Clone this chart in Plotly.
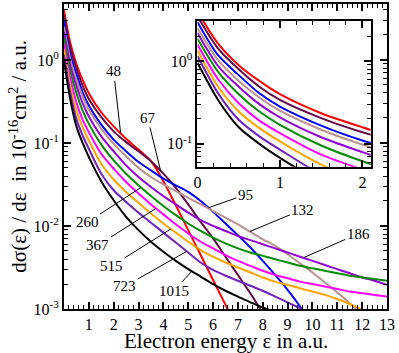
import numpy as np
import plotly.graph_objects as go

# Electron energy grid (a.u.)
energy = [0, 0.25, 0.5, 0.75, 1, 1.5, 2, 2.5, 3, 3.5, 4, 4.5, 5, 5.5, 6, 6.5,
          7, 7.5, 8, 8.5, 9, 9.5, 10, 10.5, 11, 11.5, 12, 12.5, 13]

# log10 of dsigma/deps (1e-16 cm^2 / a.u.)
log_sigma_48 = [0.60, 0.21, -0.05, -0.24, -0.40, -0.63, -0.80, -0.95, -1.08, -1.22,
                -1.46, -1.75, -2.05, -2.35, -2.65, -2.95, -3.25]
log_sigma_67 = [0.54, 0.15, -0.10, -0.31, -0.47, -0.69, -0.86, -0.99, -1.10, -1.22,
                -1.37, -1.54, -1.74, -1.95, -2.15, -2.37, -2.59, -2.81, -3.05]
log_sigma_95 = [0.47, 0.07, -0.17, -0.39, -0.55, -0.78, -0.96, -1.10, -1.23, -1.33,
                -1.43, -1.51, -1.59, -1.70, -1.83, -1.97, -2.11, -2.26, -2.42, -2.59,
                -2.77, -2.97, -3.20]
log_sigma_132 = [0.40, 0.01, -0.24, -0.44, -0.60, -0.83, -1.01, -1.16, -1.30, -1.41,
                 -1.50, -1.58, -1.66, -1.74, -1.82, -1.90, -1.98, -2.07, -2.16, -2.24,
                 -2.34, -2.45, -2.56, -2.68, -2.80, -2.93, -3.08]
log_sigma_186 = [0.34, -0.06, -0.31, -0.52, -0.68, -0.92, -1.10, -1.27, -1.41, -1.53,
                 -1.64, -1.74, -1.84, -1.93, -2.00, -2.06, -2.12, -2.17, -2.22, -2.27,
                 -2.32, -2.37, -2.42, -2.47, -2.52, -2.57, -2.62, -2.66, -2.71]
log_sigma_260 = [0.27, -0.13, -0.40, -0.61, -0.77, -1.02, -1.21, -1.37, -1.51, -1.64,
                 -1.76, -1.87, -1.97, -2.06, -2.14, -2.21, -2.27, -2.32, -2.36, -2.40,
                 -2.44, -2.48, -2.51, -2.54, -2.57, -2.60, -2.62, -2.64, -2.66]
log_sigma_367 = [0.20, -0.22, -0.51, -0.72, -0.87, -1.13, -1.31, -1.47, -1.61, -1.74,
                 -1.86, -1.98, -2.09, -2.19, -2.27, -2.35, -2.42, -2.48, -2.54, -2.59,
                 -2.63, -2.67, -2.70, -2.73, -2.76, -2.79, -2.81, -2.83, -2.85]
log_sigma_515 = [0.13, -0.31, -0.61, -0.81, -0.97, -1.25, -1.44, -1.59, -1.72, -1.85,
                 -1.97, -2.08, -2.19, -2.29, -2.37, -2.44, -2.50, -2.56, -2.62, -2.67,
                 -2.71, -2.75, -2.79, -2.83, -2.88, -2.94, -3.01, -3.10]
log_sigma_723 = [0.06, -0.39, -0.71, -0.91, -1.07, -1.37, -1.57, -1.71, -1.84, -1.96,
                 -2.08, -2.20, -2.32, -2.44, -2.53, -2.60, -2.66, -2.72, -2.78, -2.85,
                 -2.92, -2.99, -3.08]
log_sigma_1015 = [-0.02, -0.47, -0.80, -1.00, -1.17, -1.46, -1.69, -1.89, -2.05, -2.19,
                  -2.31, -2.42, -2.52, -2.61, -2.70, -2.78, -2.85, -2.92, -2.98, -3.04]

curve_labels = ["48", "67", "95", "132", "186", "260", "367", "515", "723", "1015"]
curve_colors = ["#FF0000", "#670748", "#0000FF", "#BC8F8F", "#9400D3",
                "#008B00", "#FF00FF", "#FFA500", "#7221BC", "#000000"]
curve_values = [log_sigma_48, log_sigma_67, log_sigma_95, log_sigma_132, log_sigma_186,
                log_sigma_260, log_sigma_367, log_sigma_515, log_sigma_723, log_sigma_1015]

# energy where each label's leader line touches its curve
label_energy = [2.28, 3.89, 5.81, 7.48, 9.63, 3.1, 3.7, 4.3, 4.94, 5.14]
# text offsets (pixels) of each label from that point
label_offsets = [(-7, -62), (-13, -53), (37, -13), (53, -22), (55, -24),
                 (-54, 35), (-58, 37), (-59, 37), (-62, 35), (-18, 20)]

main_xticks = list(range(1, 14))
main_yticks = [1e-3, 1e-2, 1e-1, 1]
main_yticktext = ["10<sup>-3</sup>", "10<sup>-2</sup>", "10<sup>-1</sup>", "10<sup>0</sup>"]
inset_xticks = [0, 1, 2]
inset_yticks = [1e-1, 1]
inset_yticktext = ["10<sup>-1</sup>", "10<sup>0</sup>"]

FONT = "Liberation Serif, Times New Roman, Times, serif"

fig = go.Figure()
for name, color, vals in zip(curve_labels, curve_colors, curve_values):
    xs = energy[:len(vals)]
    ys = [10 ** v for v in vals]
    for xa, ya in (("x", "y"), ("x2", "y2")):
        fig.add_trace(go.Scatter(
            x=xs, y=ys, mode="lines", name=name, showlegend=False, hoverinfo="skip",
            line=dict(color=color, width=2, shape="spline", smoothing=0.8),
            xaxis=xa, yaxis=ya))

x_minor = [round(v, 2) for v in np.arange(0, 13.01, 0.2) if abs(v - round(v)) > 1e-6]
y_minor = [m * 10.0 ** e for e in range(-3, 1) for m in range(2, 10)]
xi_minor = [round(v, 2) for v in np.arange(0, 2.11, 0.2) if abs(v - round(v)) > 1e-6]
yi_minor = [m * 10.0 ** e for e in range(-2, 1) for m in range(2, 10)]

common = dict(showline=True, linecolor="black", linewidth=2, mirror="allticks",
              ticks="inside", ticklen=7, tickwidth=1.5, tickcolor="black",
              showgrid=False, zeroline=False, automargin=False,
              tickfont=dict(family=FONT, size=16, color="black"))
minor_style = dict(tickmode="array", ticks="inside", ticklen=4, tickwidth=1,
                   tickcolor="black", showgrid=False)

fig.update_layout(
    width=399, height=353,
    margin=dict(l=64, r=12, t=4, b=44),
    paper_bgcolor="white", plot_bgcolor="white",
    font=dict(family=FONT, size=16, color="black"),
    xaxis=dict(domain=[0, 1], range=[0, 13], tickmode="array", tickvals=main_xticks,
               minor=dict(tickvals=x_minor, **minor_style), anchor="y", **common),
    yaxis=dict(domain=[0, 1], type="log", range=[-3, 0.674], tickmode="array",
               tickvals=main_yticks, ticktext=main_yticktext,
               minor=dict(tickvals=y_minor, **minor_style), anchor="x", **common),
    xaxis2=dict(domain=[0.4133, 0.9495], range=[0, 2.1], tickmode="array",
                tickvals=inset_xticks, minor=dict(tickvals=xi_minor, **minor_style),
                anchor="y2", **common),
    yaxis2=dict(domain=[0.4666, 0.9452], type="log", range=[-1.276, 0.487],
                tickmode="array", tickvals=inset_yticks, ticktext=inset_yticktext,
                minor=dict(tickvals=yi_minor, **minor_style), anchor="x2", **common),
)

annotations = []
for name, vals, xe, (ax, ay) in zip(curve_labels, curve_values, label_energy, label_offsets):
    ly = float(np.interp(xe, energy[:len(vals)], vals))
    annotations.append(dict(
        x=xe, y=ly, xref="x", yref="y", text=name, showarrow=True,
        arrowhead=0, arrowwidth=1, arrowcolor="black", ax=ax, ay=ay, standoff=0,
        font=dict(family=FONT, size=15, color="black")))

annotations.append(dict(
    x=0.5, y=-0.106, xref="paper", yref="paper", text="Electron energy ε in a.u.",
    showarrow=False, xanchor="center", yanchor="middle",
    font=dict(family=FONT, size=21, color="black")))
annotations.append(dict(
    x=-0.142, y=0.5, xref="paper", yref="paper",
    text="dσ(ε) / dε  in 10<sup>-16</sup>cm<sup>2</sup> / a.u.",
    showarrow=False, textangle=-90, xanchor="center", yanchor="middle",
    font=dict(family=FONT, size=21, color="black")))
fig.update_layout(annotations=annotations)

fig.write_html("out.html",
               config={"displayModeBar": False},
               post_script="document.body.style.margin='0px';"
                           "document.body.style.overflow='hidden';")
